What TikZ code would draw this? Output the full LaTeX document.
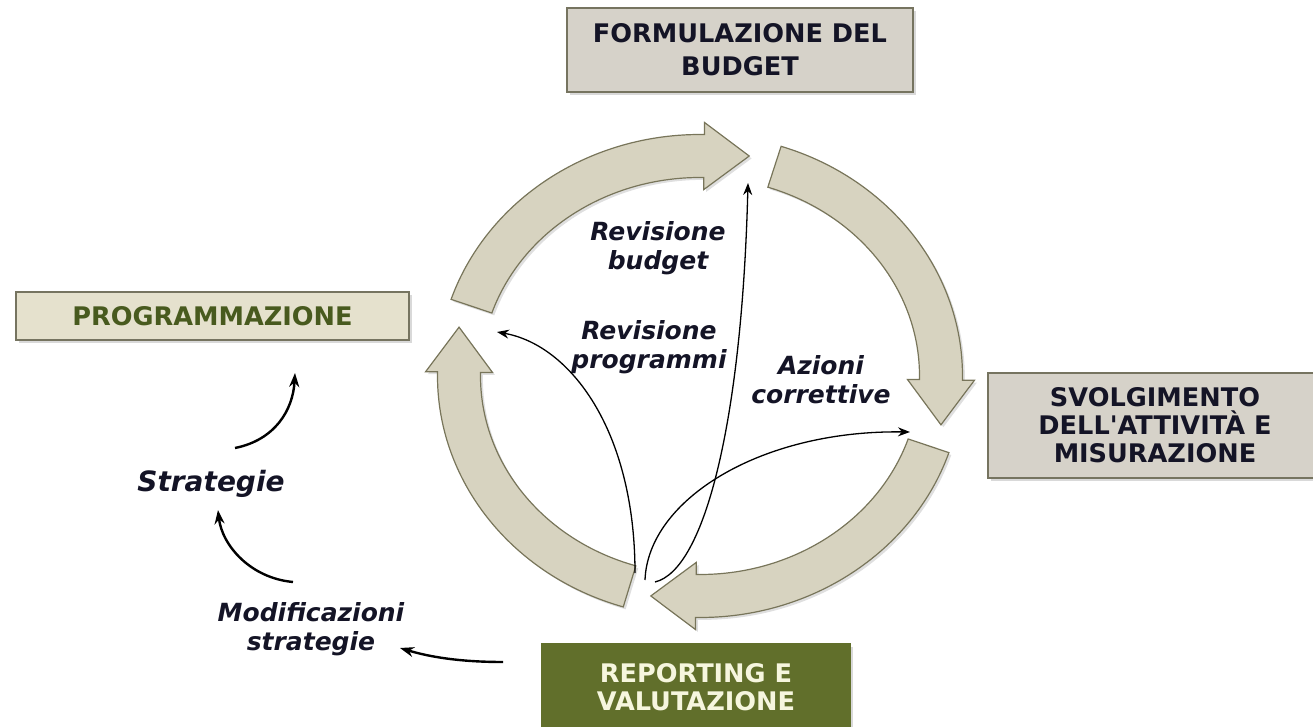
\documentclass[tikz,border=0pt]{standalone}
\usepackage{fontspec}
\setsansfont{DejaVu Sans}[Ligatures=TeXOff]
\usetikzlibrary{shadows,arrows.meta}
\definecolor{arrowfill}{RGB}{215,211,192}
\definecolor{arrowedge}{RGB}{120,117,90}
\definecolor{greybox}{RGB}{214,210,201}
\definecolor{beigebox}{RGB}{229,225,205}
\definecolor{greenbox}{RGB}{97,111,43}
\definecolor{boxedge}{RGB}{118,116,96}
\definecolor{olivetext}{RGB}{72,90,30}
\definecolor{navytext}{RGB}{20,20,38}
\definecolor{creamtext}{RGB}{246,246,222}
\newcommand{\cycarrow}[3]{%
  \draw[blk] ({700+262.5*cos(#1)},{-376+241.5*sin(#1)})
    arc[start angle=#1, end angle=#2, x radius=262.5, y radius=241.5]
    -- ++({#3+90}:12)
    -- ({700+241*cos(#2)+45*cos(#3)},{-376+220*sin(#2)+45*sin(#3)})
    -- ({700+219.5*cos(#2)-12*cos(#3+90)},{-376+198.5*sin(#2)-12*sin(#3+90)})
    -- ({700+219.5*cos(#2)},{-376+198.5*sin(#2)})
    arc[start angle=#2, end angle=#1, x radius=219.5, y radius=198.5]
    -- cycle;}
\begin{document}
\begin{tikzpicture}[x=0.5pt,y=0.5pt,
  box/.style={draw=boxedge, line width=0.9pt, inner sep=0pt, align=center,
    font=\sffamily\bfseries\fontsize{12.8}{14}\selectfont,
    drop shadow={shadow xshift=1.5pt,shadow yshift=-1.5pt,opacity=0.3}},
  lbl/.style={align=center, text=navytext, inner sep=0pt,
    font=\sffamily\bfseries\itshape\fontsize{12.5}{14.5}\selectfont},
  blk/.style={fill=arrowfill, draw=arrowedge, line width=0.6pt, line join=miter,
    drop shadow={shadow xshift=1.2pt,shadow yshift=-1.2pt,opacity=0.25}},
  thinarr/.style={-{Stealth[length=6pt,width=4.5pt]}, line width=0.65pt, black},
  thickarr/.style={-{Stealth[length=7pt,width=5pt]}, line width=1.2pt, black}
]
\useasboundingbox (0,0) rectangle (1313,-727);
\clip (0,0) rectangle (1313,-727);

% cycle block arrows
\cycarrow{161.5}{89}{0}
\cycarrow{72}{-1}{-90}
\cycarrow{-18.5}{-91}{180}
\cycarrow{253}{179}{90}

% boxes
\node[box, fill=greybox, text=navytext, minimum width=173pt, minimum height=42pt,
  font=\sffamily\bfseries\fontsize{12.8}{16.5}\selectfont]
  (budget) at (740,-50) {FORMULAZIONE DEL\\BUDGET};
\node[box, fill=beigebox, text=olivetext, minimum width=196.5pt, minimum height=24pt]
  (prog) at (212.5,-316) {PROGRAMMAZIONE};
\node[box, fill=greybox, text=navytext, minimum width=167pt, minimum height=52.5pt]
  (svolg) at (1155,-425.5) {SVOLGIMENTO\\DELL'ATTIVITÀ E\\MISURAZIONE};
\node[box, fill=greenbox, draw=greenbox, text=creamtext, minimum width=154pt, minimum height=43.5pt]
  (report) at (696,-687.5) {REPORTING E\\VALUTAZIONE};

% labels
\node[lbl] (revb) at (658,-248) {Revisione\\budget};
\node[lbl] (revp) at (649,-347) {Revisione\\programmi};
\node[lbl] (azioni) at (821,-380) {Azioni\\correttive};
\node[lbl, font=\sffamily\bfseries\itshape\fontsize{14}{16}\selectfont] (strat) at (211,-484) {Strategie};
\node[lbl] (modif) at (311,-629) {Modificazioni\\strategie};

% connector end points
\coordinate (rbS) at (655,-582);
\coordinate (rbE) at (748,-183);
\coordinate (rpS) at (635,-573);
\coordinate (rpE) at (497,-332);
\coordinate (acS) at (645,-580);
\coordinate (acE) at (910,-432);
\coordinate (spS) at (235,-448);
\coordinate (spE) at (295,-373);
\coordinate (msS) at (293,-582);
\coordinate (msE) at (218,-510);
\coordinate (rmS) at (503,-662);
\coordinate (rmE) at (400,-648);

\draw[thinarr] (rbS) .. controls (705,-570) and (742,-420) .. (rbE);
\draw[thinarr] (rpS) .. controls (635,-430) and (570,-345) .. (rpE);
\draw[thinarr] (acS) .. controls (648,-500) and (760,-430) .. (acE);
\draw[thickarr] (spS) .. controls (275,-440) and (293,-410) .. (spE);
\draw[thickarr] (msS) .. controls (250,-578) and (222,-545) .. (msE);
\draw[thickarr] (rmS) .. controls (460,-662) and (430,-657) .. (rmE);
\end{tikzpicture}
\end{document}
